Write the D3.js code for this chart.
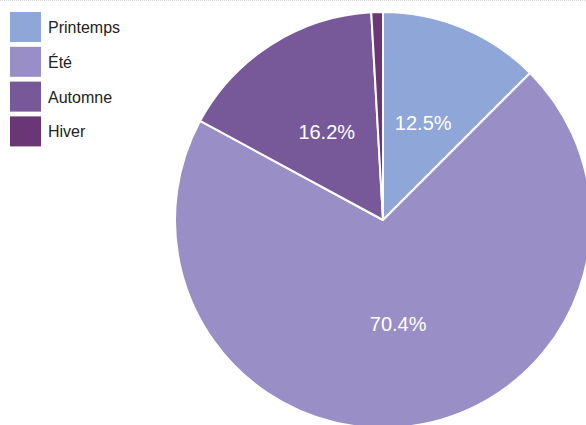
<!DOCTYPE html>
<html><head><meta charset="utf-8">
<script src="https://cdn.jsdelivr.net/npm/d3@7"></script>
<style>body{margin:0;background:#fff;} svg{display:block;}</style>
</head><body>
<svg id="c" width="586" height="425"></svg>
<script>
const categories = ["Printemps", "Été", "Automne", "Hiver"];
const values = [12.5, 70.4, 16.2, 0.9];
const labels = ["12.5%", "70.4%", "16.2%", ""];
const colors = ["#8fa6d8", "#9a8ec6", "#77599a", "#6b3676"];

const svg = d3.select("#c");
const W = 586, H = 425;
const cx = 383, cy = 220, R = 208;

svg.append("rect").attr("width", W).attr("height", H).attr("fill", "#fff");
svg.append("line").attr("x1",0).attr("x2",W).attr("y1",0.5).attr("y2",0.5)
  .attr("stroke","#d6d6d6").attr("stroke-width",1).attr("stroke-dasharray","1,1");

const color = d3.scaleOrdinal().domain(categories).range(colors);
const pie = d3.pie().sort(null).value(d => d.v);
const data = categories.map((c, i) => ({c, v: values[i], l: labels[i]}));
const arcs = pie(data);
const arc = d3.arc().innerRadius(0).outerRadius(R);
const labelArc = d3.arc().innerRadius(105).outerRadius(105);

const g = svg.append("g").attr("transform", `translate(${cx},${cy})`);
g.selectAll("path").data(arcs).enter().append("path")
  .attr("d", arc)
  .attr("fill", d => color(d.data.c))
  .attr("stroke", "#fff")
  .attr("stroke-width", 2)
  .attr("stroke-linejoin", "round");

g.selectAll("text").data(arcs).enter().append("text")
  .attr("transform", d => `translate(${labelArc.centroid(d)})`)
  .attr("text-anchor", "middle")
  .attr("dy", "0.36em")
  .attr("fill", "#fff")
  .attr("font-family", "Liberation Sans, Arial, sans-serif")
  .attr("font-size", 20)
  .text(d => d.data.l);

const leg = svg.append("g");
const items = leg.selectAll("g").data(categories).enter().append("g")
  .attr("transform", (d, i) => `translate(10,${12 + i * 34.8})`);
items.append("rect").attr("width", 31).attr("height", 30)
  .attr("fill", d => color(d));
items.append("text").attr("x", 38).attr("y", 21)
  .attr("font-family", "Liberation Sans, Arial, sans-serif")
  .attr("font-size", 16).attr("fill", "#222")
  .text(d => d);
</script>
</body></html>
